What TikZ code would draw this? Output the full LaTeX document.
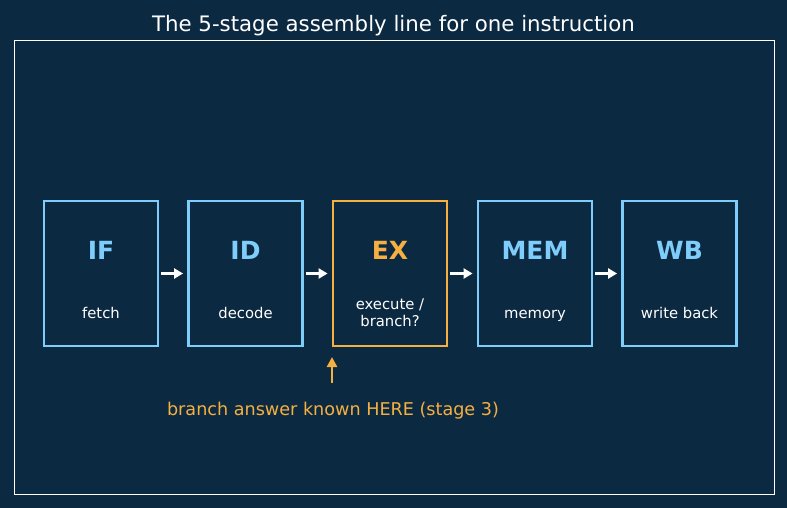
\documentclass[tikz,border=0pt]{standalone}
\usepackage{fontspec}
\setmainfont{DejaVu Sans}
\usetikzlibrary{arrows.meta}
\definecolor{bg}{RGB}{12,41,66}
\definecolor{stageblue}{RGB}{126,205,250}
\definecolor{hl}{RGB}{245,176,65}
\tikzset{
  stagebox/.style={draw=stageblue, line width=2.8pt, minimum width=114pt, minimum height=145pt, inner sep=0pt},
  hlbox/.style={stagebox, draw=hl},
  stagename/.style={font=\fontsize{25}{28}\selectfont\bfseries, text=stageblue},
  stagesub/.style={font=\fontsize{14.8}{17}\selectfont, text=white, align=center, text height=0.75em, text depth=0.22em, inner sep=0pt},
  flow/.style={draw=white, line width=2.4pt, -{Triangle[length=9pt,width=10pt]}},
}
\begin{document}
\begin{tikzpicture}[x=1pt,y=-1pt]
\fill[bg] (0,0) rectangle (787,508);
\useasboundingbox (0,0) rectangle (787,508);
\node[font=\fontsize{21.3}{25}\selectfont, text=white] (title) at (393.5,26) {The 5-stage assembly line for one instruction};
\draw[white, line width=1pt] (14,41) rectangle (774,494);
\node[stagebox] (IF) at (101,273.5) {};
\node[stagebox] (ID) at (245.5,273.5) {};
\node[hlbox] (EX) at (390,273.5) {};
\node[stagebox] (MEM) at (535,273.5) {};
\node[stagebox] (WB) at (679.5,273.5) {};
\node[stagename] (IFn) at (101,250) {IF};
\node[stagename] (IDn) at (245.5,250) {ID};
\node[stagename, text=hl] (EXn) at (390,250) {EX};
\node[stagename] (MEMn) at (535,250) {MEM};
\node[stagename] (WBn) at (679.5,250) {WB};
\node[stagesub] (IFs) at (101,316) {fetch};
\node[stagesub] (IDs) at (245.5,316) {decode};
\node[stagesub] (EXs) at (390,324) {execute /\\branch?};
\node[stagesub] (MEMs) at (535,316) {memory};
\node[stagesub] (WBs) at (679.5,316) {write back};
\draw[flow] ([xshift=2pt]IF.east) -- ([xshift=-4pt]ID.west);
\draw[flow] ([xshift=2pt]ID.east) -- ([xshift=-4pt]EX.west);
\draw[flow] ([xshift=2pt]EX.east) -- ([xshift=-4pt]MEM.west);
\draw[flow] ([xshift=2pt]MEM.east) -- ([xshift=-4pt]WB.west);
\coordinate (tail) at (332,383);
\coordinate (head) at (332,357);
\draw[draw=hl, line width=2.4pt, -{Triangle[length=10pt,width=10pt]}] (tail) -- (head);
\node[font=\fontsize{17.6}{21}\selectfont, text=hl] (note) at (333,411) {branch answer known HERE (stage 3)};
\end{tikzpicture}
\end{document}
